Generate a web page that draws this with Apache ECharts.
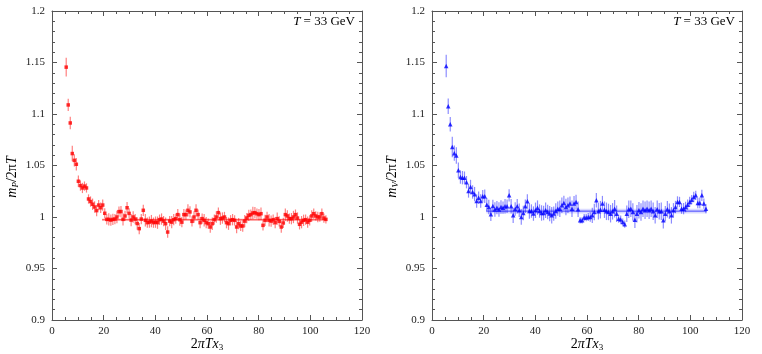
<!DOCTYPE html>
<html>
<head>
<meta charset="utf-8">
<script src="https://cdn.jsdelivr.net/npm/echarts@6/dist/echarts.min.js"></script>
<style>
html,body{margin:0;padding:0;background:#fff;}
#c{width:762px;height:354px;}
</style>
</head>
<body>
<div id="c"></div>
<script>
// ---- data ----
const xVals = [5.50,6.28,7.07,7.85,8.64,9.42,10.21,11.00,11.78,12.57,
13.35,14.14,14.92,15.71,16.49,17.28,18.06,18.85,19.63,20.42,
21.21,21.99,22.78,23.56,24.35,25.13,25.92,26.70,27.49,28.27,
29.06,29.85,30.63,31.42,32.20,32.99,33.77,34.56,35.34,36.13,
36.91,37.70,38.48,39.27,40.06,40.84,41.63,42.41,43.20,43.98,
44.77,45.55,46.34,47.12,47.91,48.69,49.48,50.27,51.05,51.84,
52.62,53.41,54.19,54.98,55.76,56.55,57.33,58.12,58.90,59.69,
60.48,61.26,62.05,62.83,63.62,64.40,65.19,65.97,66.76,67.54,
68.33,69.12,69.90,70.69,71.47,72.26,73.04,73.83,74.61,75.40,
76.18,76.97,77.75,78.54,79.33,80.11,80.90,81.68,82.47,83.25,
84.04,84.82,85.61,86.39,87.18,87.96,88.75,89.54,90.32,91.11,
91.89,92.68,93.46,94.25,95.03,95.82,96.60,97.39,98.17,98.96,
99.75,100.53,101.32,102.10,102.89,103.67,104.46,105.24,106.03];

const mP = [1.1455,1.1088,1.0913,1.0616,1.0550,1.0512,1.0347,1.0305,1.0282,1.0300,
1.0282,1.0175,1.0150,1.0124,1.0097,1.0062,1.0116,1.0090,1.0116,1.0036,
0.9977,0.9977,0.9970,0.9977,0.9980,1.0000,1.0052,1.0053,0.9977,1.0010,
1.0090,1.0035,0.9970,1.0000,0.9980,0.9937,0.9887,0.9980,1.0065,0.9968,
0.9945,0.9950,0.9960,0.9945,0.9950,0.9945,0.9974,0.9980,0.9960,0.9935,
0.9854,0.9960,0.9950,0.9974,0.9984,1.0023,0.9974,0.9950,1.0023,1.0023,
1.0065,1.0049,0.9958,1.0000,1.0065,1.0023,0.9945,0.9984,0.9968,0.9945,
0.9935,0.9903,0.9935,0.9974,1.0000,1.0042,0.9984,0.9990,1.0000,0.9945,
0.9935,0.9968,0.9974,0.9968,0.9903,0.9935,0.9913,0.9913,0.9960,0.9990,
1.0016,1.0023,1.0039,1.0042,1.0032,1.0023,1.0032,0.9919,0.9968,1.0000,
0.9968,0.9960,0.9974,0.9945,0.9984,0.9958,0.9903,0.9942,1.0023,1.0010,
0.9984,0.9984,1.0000,1.0023,0.9990,0.9929,0.9950,0.9968,0.9974,0.9950,
0.9968,1.0010,1.0032,1.0010,1.0000,1.0000,1.0032,0.9990,0.9977];

const errP = [0.0090,0.0060,0.0060,0.0075,0.0060,0.0060,0.0055,0.0050,0.0050,0.0045,
0.0045,0.0045,0.0050,0.0055,0.0055,0.0055,0.0050,0.0050,0.0055,0.0050,
0.0050,0.0060,0.0055,0.0055,0.0050,0.0060,0.0050,0.0055,0.0060,0.0050,
0.0055,0.0050,0.0060,0.0055,0.0050,0.0060,0.0055,0.0050,0.0055,0.0060,
0.0050,0.0055,0.0060,0.0050,0.0055,0.0060,0.0050,0.0055,0.0050,0.0060,
0.0055,0.0050,0.0060,0.0055,0.0050,0.0055,0.0060,0.0050,0.0055,0.0050,
0.0060,0.0055,0.0050,0.0055,0.0060,0.0050,0.0055,0.0050,0.0060,0.0055,
0.0050,0.0055,0.0060,0.0050,0.0055,0.0050,0.0060,0.0055,0.0050,0.0055,
0.0060,0.0050,0.0055,0.0050,0.0060,0.0055,0.0050,0.0055,0.0060,0.0050,
0.0055,0.0050,0.0060,0.0055,0.0050,0.0055,0.0060,0.0050,0.0055,0.0050,
0.0060,0.0055,0.0050,0.0055,0.0060,0.0050,0.0055,0.0050,0.0060,0.0055,
0.0050,0.0055,0.0060,0.0050,0.0055,0.0050,0.0060,0.0055,0.0050,0.0055,
0.0050,0.0055,0.0050,0.0045,0.0050,0.0045,0.0050,0.0045,0.0040];

const mV = [1.1466,1.1075,1.0900,1.0680,1.0620,1.0597,1.0453,1.0388,1.0382,1.0382,
1.0338,1.0253,1.0291,1.0243,1.0222,1.0155,1.0188,1.0155,1.0201,1.0201,
1.0120,1.0097,1.0026,1.0107,1.0072,1.0091,1.0072,1.0097,1.0091,1.0104,
1.0104,1.0210,1.0104,1.0016,1.0078,1.0104,1.0065,1.0000,1.0039,1.0104,
1.0152,1.0058,1.0058,1.0033,1.0065,1.0091,1.0058,1.0039,1.0039,1.0065,
1.0049,1.0033,1.0016,1.0033,1.0058,1.0081,1.0081,1.0114,1.0136,1.0097,
1.0114,1.0130,1.0081,1.0130,1.0146,1.0075,0.9968,0.9968,0.9994,0.9994,
1.0000,1.0000,1.0016,1.0049,1.0162,1.0055,1.0071,1.0130,1.0071,1.0055,
1.0049,1.0032,1.0055,1.0081,1.0032,0.9984,0.9975,0.9951,0.9930,1.0032,
1.0075,1.0081,1.0049,0.9974,1.0032,1.0065,1.0049,1.0081,1.0065,1.0081,
1.0065,1.0081,1.0055,1.0016,1.0075,1.0055,1.0055,0.9968,1.0032,1.0075,
1.0055,1.0016,1.0065,1.0097,1.0146,1.0146,1.0081,1.0081,1.0097,1.0120,
1.0146,1.0168,1.0194,1.0210,1.0136,1.0136,1.0210,1.0130,1.0081];

const errV = [0.0110,0.0075,0.0070,0.0100,0.0075,0.0080,0.0075,0.0065,0.0065,0.0060,
0.0060,0.0065,0.0070,0.0065,0.0070,0.0065,0.0060,0.0065,0.0060,0.0065,
0.0065,0.0070,0.0065,0.0060,0.0070,0.0065,0.0070,0.0065,0.0060,0.0070,
0.0065,0.0060,0.0070,0.0075,0.0065,0.0070,0.0065,0.0075,0.0070,0.0065,
0.0070,0.0075,0.0065,0.0070,0.0075,0.0070,0.0065,0.0075,0.0070,0.0075,
0.0070,0.0075,0.0080,0.0070,0.0075,0.0070,0.0080,0.0075,0.0070,0.0080,
0.0075,0.0070,0.0080,0.0075,0.0070,0.0075,0.0030,0.0030,0.0035,0.0035,
0.0040,0.0045,0.0075,0.0080,0.0070,0.0080,0.0085,0.0075,0.0080,0.0085,
0.0080,0.0085,0.0080,0.0085,0.0080,0.0040,0.0040,0.0035,0.0035,0.0080,
0.0085,0.0080,0.0085,0.0080,0.0085,0.0080,0.0085,0.0080,0.0085,0.0080,
0.0085,0.0080,0.0085,0.0080,0.0085,0.0080,0.0085,0.0080,0.0075,0.0080,
0.0075,0.0080,0.0070,0.0060,0.0055,0.0050,0.0050,0.0055,0.0050,0.0050,
0.0050,0.0045,0.0050,0.0045,0.0050,0.0050,0.0055,0.0050,0.0045];

// fit: [xStart, xEnd, value, halfWidth]
const fitP = [19.4, 106.3, 0.9973, 0.0013];
const fitV = [21.0, 106.3, 1.0057, 0.0022];

const xTicks = [0, 20, 40, 60, 80, 100, 120];
const yTicks = [0.9, 0.95, 1, 1.05, 1.1, 1.15, 1.2];

// ---- chart ----
const chart = echarts.init(document.getElementById('c'));
const SERIF = "'Liberation Serif','DejaVu Serif',serif";
const AX = '#555';

function xAxisCfg(gi, top) {
  return {
    type: 'value', gridIndex: gi, position: top ? 'top' : 'bottom',
    min: xTicks[0], max: xTicks[xTicks.length - 1], interval: xTicks[1] - xTicks[0],
    axisLine: { show: true, onZero: false, lineStyle: { color: AX, width: 1 } },
    axisTick: { show: true, inside: true, length: 5, lineStyle: { color: AX } },
    minorTick: { show: true, splitNumber: 4, length: 3, lineStyle: { color: AX } },
    axisLabel: { show: !top, color: '#222', fontFamily: SERIF, fontSize: 11, margin: 6 },
    splitLine: { show: false }, minorSplitLine: { show: false }
  };
}
function yAxisCfg(gi, right) {
  return {
    type: 'value', gridIndex: gi, position: right ? 'right' : 'left',
    min: yTicks[0], max: yTicks[yTicks.length - 1], interval: 0.05,
    axisLine: { show: true, onZero: false, lineStyle: { color: AX, width: 1 } },
    axisTick: { show: true, inside: true, length: 5, lineStyle: { color: AX } },
    minorTick: { show: true, splitNumber: 5, length: 3, lineStyle: { color: AX } },
    axisLabel: { show: !right, color: '#222', fontFamily: SERIF, fontSize: 11, margin: 7,
      formatter: v => String(+v.toFixed(2)) },
    splitLine: { show: false }, minorSplitLine: { show: false }
  };
}

function errSeries(xi, yi, ys, es, color) {
  return {
    type: 'custom', xAxisIndex: xi, yAxisIndex: yi, z: 3,
    data: xVals.map((x, i) => [x, ys[i], es[i]]),
    renderItem: (params, api) => {
      const x = api.value(0), y = api.value(1), e = api.value(2);
      const a = api.coord([x, y - e]), b = api.coord([x, y + e]);
      return { type: 'line', shape: { x1: a[0], y1: a[1], x2: b[0], y2: b[1] },
        style: { stroke: color, lineWidth: 1.2 } };
    }
  };
}
function markSeries(xi, yi, ys, color, symbol, size) {
  return {
    type: 'scatter', xAxisIndex: xi, yAxisIndex: yi, z: 4,
    symbol: symbol, symbolSize: size,
    itemStyle: { color: color },
    data: xVals.map((x, i) => [x, ys[i]])
  };
}
function bandSeries(xi, yi, fit, color) {
  return {
    type: 'custom', xAxisIndex: xi, yAxisIndex: yi, z: 1,
    data: [fit],
    renderItem: (params, api) => {
      const a = api.coord([api.value(0), api.value(2) + api.value(3)]);
      const b = api.coord([api.value(1), api.value(2) - api.value(3)]);
      return { type: 'rect', shape: { x: a[0], y: a[1], width: b[0] - a[0], height: b[1] - a[1] },
        style: { fill: color } };
    }
  };
}
function fitLine(xi, yi, fit, color) {
  return {
    type: 'line', xAxisIndex: xi, yAxisIndex: yi, z: 2, symbol: 'none',
    lineStyle: { color: color, width: 1 },
    data: [[fit[0], fit[2]], [fit[1], fit[2]]]
  };
}

const rich = {
  i: { fontFamily: SERIF, fontStyle: 'italic', fontSize: 14, color: '#111', lineHeight: 16 },
  n: { fontFamily: SERIF, fontSize: 14, color: '#111', lineHeight: 16 },
  s: { fontFamily: SERIF, fontStyle: 'italic', fontSize: 9, color: '#111', lineHeight: 8, verticalAlign: 'bottom' },
  d: { fontFamily: SERIF, fontSize: 9, color: '#111', lineHeight: 8, verticalAlign: 'bottom' }
};
const richT = {
  i: { fontFamily: SERIF, fontStyle: 'italic', fontSize: 13, color: '#111' },
  n: { fontFamily: SERIF, fontSize: 13, color: '#111' }
};

function txt(x, y, text, r, rot, align) {
  return { type: 'text', x: x, y: y, rotation: rot || 0, z: 10,
    style: { text: text, rich: r, align: align || 'center', verticalAlign: 'middle' } };
}

chart.setOption({
  animation: false,
  backgroundColor: '#fff',
  grid: [
    { left: 52, top: 11, width: 310, height: 309 },
    { left: 432, top: 11, width: 310, height: 309 }
  ],
  xAxis: [xAxisCfg(0, false), xAxisCfg(0, true), xAxisCfg(1, false), xAxisCfg(1, true)],
  yAxis: [yAxisCfg(0, false), yAxisCfg(0, true), yAxisCfg(1, false), yAxisCfg(1, true)],
  series: [
    bandSeries(0, 0, fitP, 'rgba(255,0,0,0.18)'),
    fitLine(0, 0, fitP, 'rgba(255,0,0,0.7)'),
    errSeries(0, 0, mP, errP, 'rgba(255,0,0,0.5)'),
    markSeries(0, 0, mP, '#ff0000', 'rect', 3.5),
    bandSeries(2, 2, fitV, 'rgba(0,0,255,0.14)'),
    fitLine(2, 2, fitV, 'rgba(0,0,255,0.7)'),
    errSeries(2, 2, mV, errV, 'rgba(0,0,255,0.45)'),
    markSeries(2, 2, mV, '#0000ff', 'triangle', 4.5)
  ],
  graphic: [
    txt(12, 177, '{i|m}{s|P}{n|/2π}{i|T}', rich, Math.PI / 2),
    txt(392, 177, '{i|m}{s|V}{n|/2π}{i|T}', rich, Math.PI / 2),
    txt(207, 344, '{n|2}{i|πTx}{d|3}', rich),
    txt(587, 344, '{n|2}{i|πTx}{d|3}', rich),
    txt(355, 22, '{i|T}{n| = 33 GeV}', richT, 0, 'right'),
    txt(735, 22, '{i|T}{n| = 33 GeV}', richT, 0, 'right')
  ]
});
</script>
</body>
</html>
